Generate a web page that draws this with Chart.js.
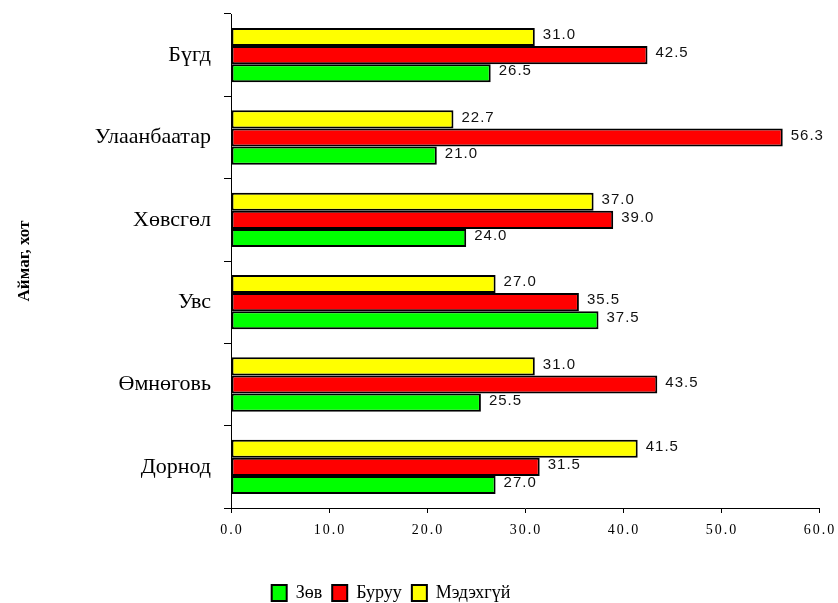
<!DOCTYPE html>
<html>
<head>
<meta charset="utf-8">
<script src="https://cdn.jsdelivr.net/npm/chart.js@4"></script>
<style>
  html, body { margin: 0; padding: 0; background: #fff; }
  #wrap { width: 838px; height: 603px; }
</style>
</head>
<body>
<div id="wrap"><canvas id="grafico" width="838" height="603"></canvas></div>
<script>
// Datos
const aimag = ["Бүгд", "Улаанбаатар", "Хөвсгөл", "Увс", "Өмнөговь", "Дорнод"];
const zov = [26.5, 21.0, 24.0, 37.5, 25.5, 27.0];
const buruu = [42.5, 56.3, 39.0, 35.5, 43.5, 31.5];
const medekhgui = [31.0, 22.7, 37.0, 27.0, 31.0, 41.5];
const ejeTicks = [0, 10, 20, 30, 40, 50, 60];

const serif = "'Liberation Serif', 'Times New Roman', serif";

// Etiquetas de valor al final de cada barra
const etiquetasBarras = {
  id: "etiquetasBarras",
  afterDatasetsDraw(chart) {
    const ctx = chart.ctx;
    ctx.save();
    ctx.font = "15px 'Liberation Sans', Arial, sans-serif";
    ctx.fillStyle = "#111";
    ctx.textAlign = "left";
    ctx.textBaseline = "middle";
    ctx.letterSpacing = "1px";
    chart.data.datasets.forEach((ds, i) => {
      chart.getDatasetMeta(i).data.forEach((bar, j) => {
        ctx.fillText(ds.data[j].toFixed(1), bar.x + 8, bar.y - 2);
      });
    });
    ctx.restore();
  }
};

// Etiquetas del eje X con espaciado entre letras
const ticksX = {
  id: "ticksX",
  afterDraw(chart) {
    const ctx = chart.ctx;
    const x = chart.scales.x;
    ctx.save();
    ctx.font = "14px " + serif;
    ctx.fillStyle = "#000";
    ctx.textBaseline = "middle";
    ctx.textAlign = "left";
    ctx.letterSpacing = "2px";
    ejeTicks.forEach(v => {
      const txt = v.toFixed(1);
      const w = ctx.measureText(txt).width - 2;
      ctx.fillText(txt, x.getPixelForValue(v) - w / 2, x.top + 22);
    });
    ctx.restore();
  }
};

// Ajustar la posición de la leyenda
const leyendaPos = {
  id: "leyendaPos",
  afterLayout(chart) {
    const lg = chart.legend;
    lg.right = lg.left + 782;
    lg.top += 9;
    lg.bottom += 9;
  }
};

new Chart(document.getElementById("grafico"), {
  type: "bar",
  data: {
    labels: aimag,
    datasets: [
      { label: "Мэдэхгүй", data: medekhgui, backgroundColor: "#ffff00" },
      { label: "Буруу", data: buruu, backgroundColor: "#ff0000" },
      { label: "Зөв", data: zov, backgroundColor: "#00ff00" }
    ].map(d => Object.assign(d, {
      borderColor: "#000",
      borderWidth: 2,
      borderSkipped: false,
      categoryPercentage: 0.66,
      barPercentage: 1
    }))
  },
  options: {
    indexAxis: "y",
    responsive: false,
    animation: false,
    layout: { padding: { top: 14, right: 19, left: 0, bottom: 0 } },
    scales: {
      x: {
        min: 0,
        max: 60,
        ticks: { display: false, stepSize: 10 },
        grid: { drawOnChartArea: false, drawTicks: true, tickLength: 5, color: "#000" },
        border: { color: "#000", width: 1 },
        afterFit(s) { s.height = 57; s.paddingLeft = 0; s.paddingRight = 0; }
      },
      y: {
        ticks: { color: "#000", font: { family: serif, size: 22 }, padding: 13 },
        grid: { drawOnChartArea: false, drawTicks: true, tickLength: 7, color: "#000" },
        border: { color: "#000", width: 1 },
        title: {
          display: true,
          text: "Аймаг, хот",
          color: "#000",
          font: { family: serif, size: 17, weight: "bold" },
          padding: { top: 14, bottom: 0 }
        },
        afterFit(s) { s.width = 231; s.paddingTop = 0; s.paddingBottom = 0; }
      }
    },
    plugins: {
      legend: {
        position: "bottom",
        reverse: true,
        labels: {
          color: "#000",
          font: { family: serif, size: 18 },
          boxWidth: 15,
          boxHeight: 16,
          padding: 10
        }
      },
      tooltip: { enabled: false }
    }
  },
  plugins: [etiquetasBarras, ticksX, leyendaPos]
});
</script>
</body>
</html>
